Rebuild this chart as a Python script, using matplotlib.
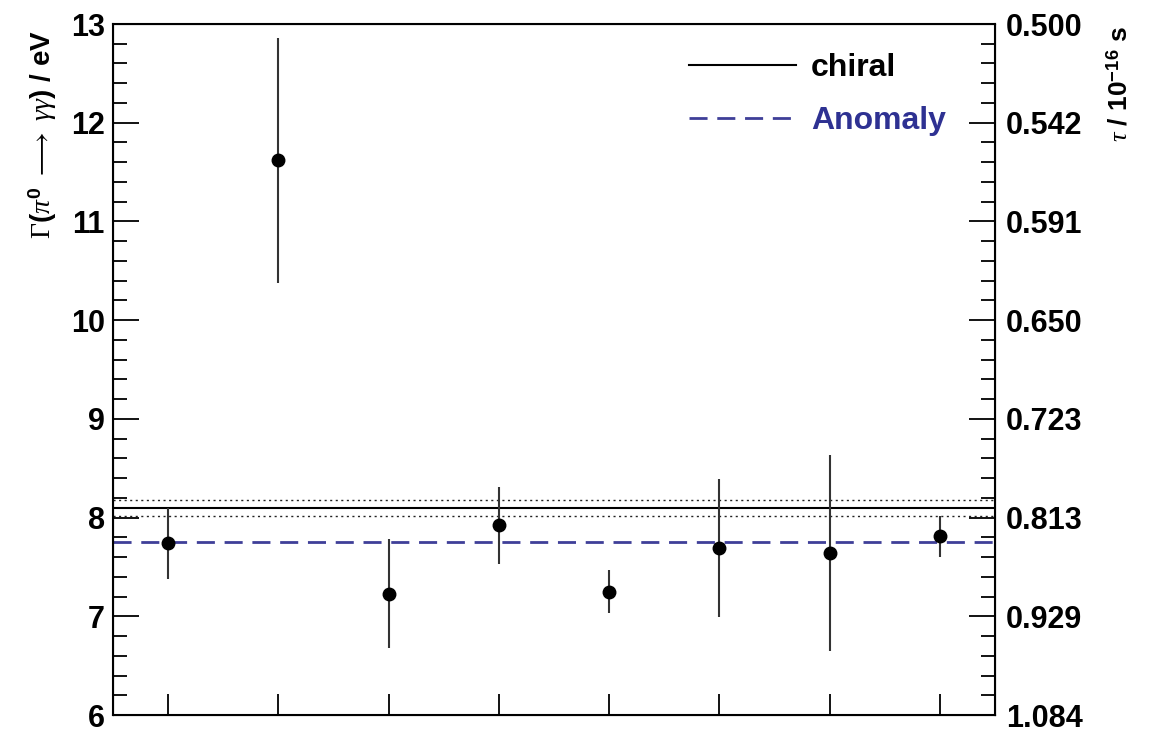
import numpy as np
import matplotlib
matplotlib.use('Agg')
import matplotlib.pyplot as plt

plt.rcParams['font.family'] = ['Liberation Sans', 'DejaVu Sans']
plt.rcParams['mathtext.fontset'] = 'custom'
plt.rcParams['mathtext.rm'] = 'Liberation Serif'
plt.rcParams['mathtext.it'] = 'Liberation Serif:italic'
plt.rcParams['mathtext.bf'] = 'Liberation Sans:bold'

# measurements (eV)
xpos = [1, 2, 3, 4, 5, 6, 7, 8]
width = [7.74, 11.62, 7.23, 7.92, 7.25, 7.69, 7.64, 7.81]
err = [0.36, 1.24, 0.55, 0.39, 0.22, 0.70, 0.99, 0.21]

chiral = 8.10
chiral_err = 0.08
anomaly = 7.75

yticks = [6, 7, 8, 9, 10, 11, 12, 13]
tau_labels = ['1.084', '0.929', '0.813', '0.723', '0.650', '0.591', '0.542', '0.500']

fig = plt.figure(figsize=(11.54, 7.30), dpi=100)
ax = fig.add_axes([113/1154, 1-715/730, (995-113)/1154, (715-24)/730])

ax.errorbar(xpos, width, yerr=err, fmt='o', color='black', ms=9,
            ecolor='#333333', elinewidth=1.5, capsize=0, zorder=5)

ax.axhline(chiral, color='black', lw=1.5, label='chiral')
ax.axhline(chiral + chiral_err, color='#222222', lw=1.0, ls=(0, (1.5, 2.5)))
ax.axhline(chiral - chiral_err, color='#222222', lw=1.0, ls=(0, (1.5, 2.5)))
ax.axhline(anomaly, color='#3f3f98', lw=2.0, ls=(0, (6.5, 3.5)), label='Anomaly')

ax.set_xlim(0.5, 8.5)
ax.set_ylim(6, 13)
ax.set_xticks(xpos)
ax.set_xticklabels([])
ax.set_yticks(yticks)
ax.set_yticks(np.arange(6, 13.01, 0.2), minor=True)
ax.tick_params(axis='x', direction='in', length=15, width=1.3, bottom=True, top=False)
ax.tick_params(axis='y', which='major', direction='in', length=19, width=1.3,
               labelsize=22, pad=6)
ax.tick_params(axis='y', which='minor', direction='in', length=10, width=1.3)
for lab in ax.get_yticklabels():
    lab.set_fontweight('bold')
for s in ax.spines.values():
    s.set_linewidth(1.5)

ax2 = ax.twinx()
ax2.set_ylim(6, 13)
ax2.set_yticks(yticks)
ax2.set_yticklabels(tau_labels, fontsize=22, fontweight='bold')
ax2.set_yticks(np.arange(6, 13.01, 0.2), minor=True)
ax2.tick_params(axis='y', which='major', direction='in', length=19, width=1.3, pad=8)
ax2.tick_params(axis='y', which='minor', direction='in', length=10, width=1.3)

leg = ax.legend(loc='upper right', bbox_to_anchor=(0.977, 1.0), frameon=False,
                handlelength=3.35, handletextpad=0.47, labelspacing=0.72,
                prop={'weight': 'bold', 'size': 23})
leg.get_texts()[1].set_color('#2e3192')

fig.text(43/1154, 1-30/730,
         r'$\Gamma$($\pi^{\mathbf{0}}$ $\longrightarrow$ $\gamma\gamma$) / eV',
         rotation=90, ha='center', va='top', fontsize=20, fontweight='bold')
fig.text(1119/1154, 1-26/730, r'$\tau$ / 10$^{\mathbf{-16}}$ s',
         rotation=90, ha='center', va='top', fontsize=19, fontweight='bold')

fig.savefig('out.png', dpi=100)
